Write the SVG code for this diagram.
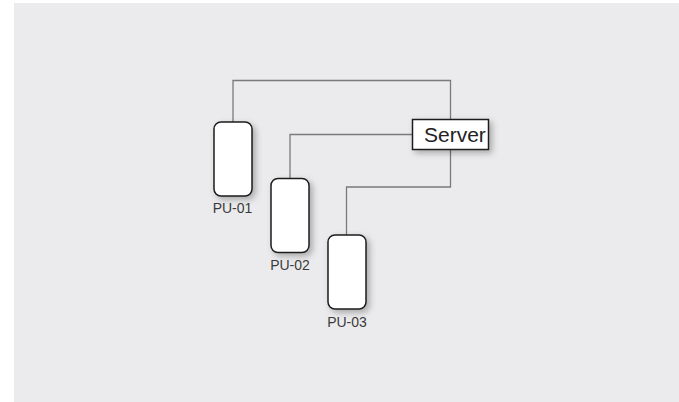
<svg xmlns="http://www.w3.org/2000/svg" width="679" height="402" viewBox="0 0 679 402">
  <defs>
    <filter id="shadow" x="-30%" y="-30%" width="170%" height="170%">
      <feDropShadow dx="3" dy="3" stdDeviation="3" flood-color="#000" flood-opacity="0.28"/>
    </filter>
  </defs>
  <style>
    .unit { fill: #ffffff; stroke: #1e1e1e; stroke-width: 1.5; filter: url(#shadow); }
    .box { fill: #ffffff; stroke: #1e1e1e; stroke-width: 1.5; filter: url(#shadow); }
    .label { font-family: "Liberation Sans", Arial, sans-serif; font-size: 14px; fill: #3a3a3a; text-anchor: middle; }
    .title { font-family: "Liberation Sans", Arial, sans-serif; font-size: 21px; fill: #222222; }
    .wire { fill: none; stroke: #7a7a7a; stroke-width: 1.3; }
  </style>

  <!-- panel -->
  <rect x="14" y="3" width="665" height="399" fill="#ebebed"/>

  <!-- wiring between server and processing units -->
  <g id="connectors">
    <polyline class="wire" points="233,122 233,80.5 450.5,80.5 450.5,119.5"/>
    <polyline class="wire" points="412.5,134.5 290,134.5 290,178.5"/>
    <polyline class="wire" points="450.5,149.5 450.5,187 346.5,187 346.5,235"/>
  </g>

  <g id="server">
    <rect class="box" x="412.5" y="119.5" width="76" height="30"/>
    <text class="title" x="424" y="141.5">Server</text>
  </g>

  <g id="pu-01">
    <rect class="unit" x="214" y="122" width="38" height="74" rx="7"/>
    <text class="label" x="232.5" y="212.5">PU-01</text>
  </g>

  <g id="pu-02">
    <rect class="unit" x="271" y="178.5" width="38" height="74" rx="7"/>
    <text class="label" x="290" y="270">PU-02</text>
  </g>

  <g id="pu-03">
    <rect class="unit" x="328" y="235" width="38" height="74" rx="7"/>
    <text class="label" x="347" y="327">PU-03</text>
  </g>
</svg>
